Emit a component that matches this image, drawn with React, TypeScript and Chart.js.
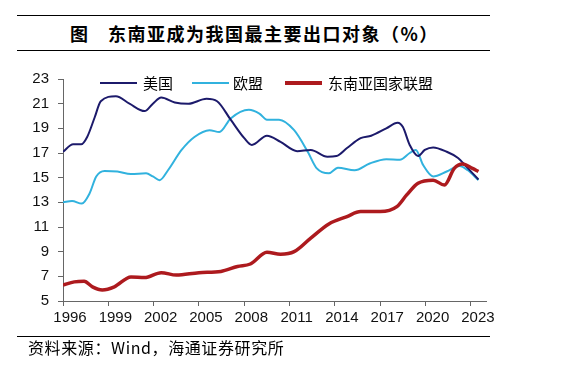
import React, { useEffect, useRef } from "react";
import { Chart, registerables } from "chart.js";

Chart.register(...registerables);

const titleLabel = "图";
const titleText = "东南亚成为我国最主要出口对象（%）";
const sourceText = "资料来源：Wind，海通证券研究所";

const seriesNames = ["美国", "欧盟", "东南亚国家联盟"];
const seriesColors = ["#1c1a6b", "#31b2de", "#ad1a1e"];

const xTicks = [1996, 1999, 2002, 2005, 2008, 2011, 2014, 2017, 2020, 2023];
const yTicks = [5, 7, 9, 11, 13, 15, 17, 19, 21, 23];

const usYears = [1996, 1996.67, 1997.2, 1997.6, 1998.1, 1998.5, 1999.5, 2000.4, 2001.4, 2001.95, 2002.5, 2003.4, 2004.3, 2005.5, 2006.2, 2007.1, 2008.0, 2008.5, 2009.5, 2010.4, 2011.5, 2012.4, 2013.5, 2014.1, 2014.8, 2015.7, 2016.4, 2017.4, 2018.15, 2018.5, 2018.95, 2019.5, 2019.95, 2020.5, 2021.4, 2022.15, 2022.7, 2023.5];
const usValues = [17.1, 17.7, 17.7, 18.3, 19.9, 21.2, 21.6, 21.0, 20.4, 21.0, 21.5, 21.1, 21.0, 21.4, 21.2, 19.7, 18.2, 17.65, 18.4, 17.9, 17.15, 17.25, 16.7, 16.75, 17.4, 18.2, 18.4, 19.0, 19.45, 19.1, 17.65, 16.75, 17.25, 17.45, 17.1, 16.6, 15.9, 14.85];

const euYears = [1996, 1996.6, 1997.25, 1997.75, 1998.2, 1998.75, 1999.6, 2000.5, 2001.5, 2001.95, 2002.4, 2002.95, 2003.85, 2004.7, 2005.7, 2006.35, 2007.1, 2008.3, 2009.0, 2009.5, 2010.3, 2011.3, 2012.2, 2012.8, 2013.6, 2014.2, 2015.3, 2016.3, 2017.4, 2018.3, 2018.95, 2019.35, 2019.85, 2020.5, 2021.4, 2022.25, 2022.8, 2023.5];
const euValues = [13.0, 13.1, 12.9, 13.7, 15.1, 15.55, 15.5, 15.3, 15.35, 15.1, 14.8, 15.6, 17.25, 18.3, 18.85, 18.7, 19.8, 20.5, 20.2, 19.7, 19.7, 18.85, 17.1, 15.75, 15.35, 15.8, 15.6, 16.15, 16.5, 16.45, 17.0, 17.25, 16.0, 15.1, 15.5, 15.95, 15.6, 14.8];

const aseanYears = [1996, 1996.75, 1997.4, 1997.95, 1998.6, 1999.4, 2000.5, 2001.4, 2002.5, 2003.5, 2005.0, 2006.45, 2007.55, 2008.4, 2009.5, 2010.4, 2011.3, 2012.4, 2013.6, 2014.8, 2015.7, 2017.0, 2018.1, 2018.75, 2019.5, 2020.5, 2021.25, 2021.9, 2022.45, 2023.1, 2023.5];
const aseanValues = [6.3, 6.55, 6.6, 6.15, 5.9, 6.15, 6.95, 6.9, 7.3, 7.1, 7.3, 7.4, 7.8, 8.0, 8.95, 8.8, 9.0, 10.1, 11.25, 11.85, 12.25, 12.25, 12.65, 13.6, 14.55, 14.8, 14.4, 15.75, 16.1, 15.75, 15.5];

const toPoints = (xs: number[], ys: number[]) => xs.map((x, i) => ({ x, y: ys[i] }));

const CJK = '"Noto Sans CJK SC", "Noto Sans", sans-serif';
const NUM = '"Liberation Sans", Arial, sans-serif';

export default function App() {
  const canvasRef = useRef<HTMLCanvasElement | null>(null);

  useEffect(() => {
    const canvas = canvasRef.current;
    if (!canvas) return;
    const axisColor = "#666666";
    const chart = new Chart(canvas, {
      type: "line",
      data: {
        datasets: [
          {
            label: seriesNames[2],
            data: toPoints(aseanYears, aseanValues),
            borderColor: seriesColors[2],
            borderWidth: 3.5,
            pointRadius: 0,
            cubicInterpolationMode: "monotone",
            order: 0,
          },
          {
            label: seriesNames[0],
            data: toPoints(usYears, usValues),
            borderColor: seriesColors[0],
            borderWidth: 2,
            pointRadius: 0,
            cubicInterpolationMode: "monotone",
            order: 1,
          },
          {
            label: seriesNames[1],
            data: toPoints(euYears, euValues),
            borderColor: seriesColors[1],
            borderWidth: 2,
            pointRadius: 0,
            cubicInterpolationMode: "monotone",
            order: 2,
          },
        ],
      },
      options: {
        animation: false,
        responsive: false,
        layout: { padding: { left: 0, top: 79, right: 77, bottom: 37 } },
        plugins: { legend: { display: false }, tooltip: { enabled: false } },
        scales: {
          x: {
            type: "linear",
            min: 1996,
            max: 2024,
            afterBuildTicks: (scale: any) => {
              scale.ticks = xTicks.map((v) => ({ value: v }));
            },
            afterFit: (scale: any) => {
              scale.height = 30;
            },
            grid: { drawOnChartArea: false, drawTicks: true, tickLength: 5, color: axisColor },
            border: { color: axisColor, width: 1 },
            ticks: {
              autoSkip: false,
              maxRotation: 0,
              padding: 3,
              labelOffset: 7,
              color: "#111",
              font: { family: NUM, size: 15 },
              callback: (v: any) => String(v),
            },
          },
          y: {
            type: "linear",
            min: 5,
            max: 23,
            afterBuildTicks: (scale: any) => {
              scale.ticks = yTicks.map((v) => ({ value: v }));
            },
            afterFit: (scale: any) => {
              scale.width = 63;
            },
            grid: { drawOnChartArea: false, drawTicks: true, tickLength: 5, color: axisColor },
            border: { color: axisColor, width: 1 },
            ticks: {
              padding: 9,
              color: "#111",
              font: { family: NUM, size: 15 },
              callback: (v: any) => String(v),
            },
          },
        },
      },
    });
    return () => chart.destroy();
  }, []);

  const legendItems = [
    { name: seriesNames[0], color: seriesColors[0], lineX: 100, textX: 143, w: 2 },
    { name: seriesNames[1], color: seriesColors[1], lineX: 192, textX: 233, w: 2 },
    { name: seriesNames[2], color: seriesColors[2], lineX: 285, textX: 328, w: 3.5 },
  ];

  return (
    <div style={{ position: "fixed", left: 0, top: 0, width: 563, height: 368, background: "#fff", overflow: "hidden" }}>
      <div style={{ position: "absolute", left: 17, top: 15, width: 473, height: 1, background: "#000" }} />
      <div style={{ position: "absolute", left: 17, top: 50, width: 473, height: 1, background: "#000" }} />
      <div style={{ position: "absolute", left: 70, top: 21, fontFamily: CJK, fontSize: 18, fontWeight: 700, lineHeight: "24px", color: "#000", whiteSpace: "nowrap" }}>
        {titleLabel}
      </div>
      <div style={{ position: "absolute", left: 108, top: 21, fontFamily: CJK, fontSize: 18, fontWeight: 700, letterSpacing: 1.5, lineHeight: "24px", color: "#000", whiteSpace: "nowrap" }}>
        {titleText}
      </div>
      <canvas ref={canvasRef} width={563} height={368} style={{ position: "absolute", left: 0, top: 0, width: 563, height: 368 }} />
      {legendItems.map((it) => (
        <React.Fragment key={it.name}>
          <div style={{ position: "absolute", left: it.lineX, top: 83 - it.w / 2, width: 37, height: it.w, background: it.color }} />
          <div style={{ position: "absolute", left: it.textX, top: 74, fontFamily: CJK, fontSize: 15, lineHeight: "18px", color: "#000", whiteSpace: "nowrap" }}>
            {it.name}
          </div>
        </React.Fragment>
      ))}
      <div style={{ position: "absolute", left: 17, top: 336, width: 473, height: 1, background: "#000" }} />
      <div style={{ position: "absolute", left: 28, top: 337, fontFamily: CJK, fontSize: 16, letterSpacing: 0.6, lineHeight: "20px", color: "#000", whiteSpace: "nowrap" }}>
        {sourceText}
      </div>
    </div>
  );
}
